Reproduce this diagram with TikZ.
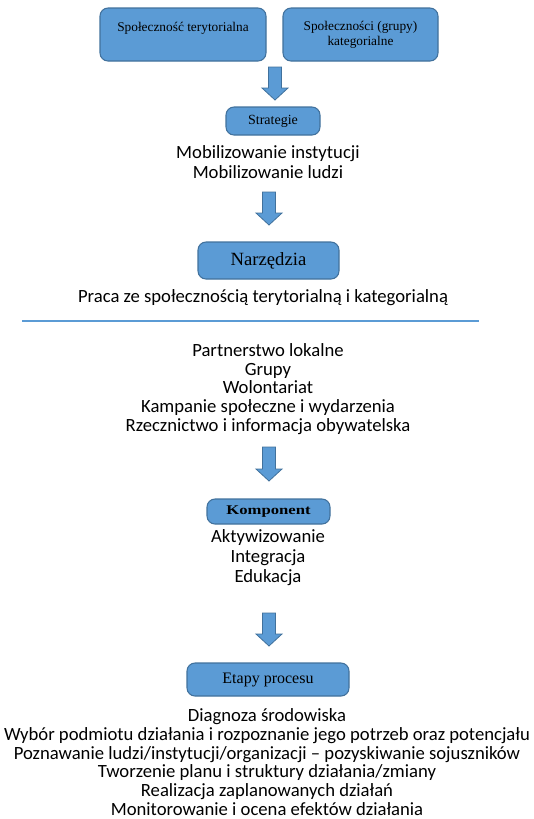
\documentclass[tikz,border=0pt]{standalone}
\usepackage{fontspec}
\setmainfont{Liberation Serif}
\newfontfamily\calibri{Carlito}
\usetikzlibrary{calc}

\definecolor{boxblue}{HTML}{5B9BD5}
\definecolor{boxedge}{HTML}{41719C}

\tikzset{
    stagebox/.style={draw=boxedge, fill=boxblue, rounded corners=6pt, line width=0.8pt,
        inner sep=0pt, align=center, font=\fontsize{10}{11.5}\selectfont},
    plaintext/.style={align=center, inner sep=0pt,
        font=\calibri\fontsize{14}{14.4}\selectfont},
    blockarr/.style={draw=boxedge, fill=boxblue, line width=0.6pt, line join=miter}
}

% block arrow from #1 (top of shaft) to #2 (tip)
\newcommand{\blockarrow}[2]{%
    \path[blockarr] let \p1=(#1), \p2=(#2) in
        (\x1-4.9pt,\y1) -- (\x1+4.9pt,\y1) -- (\x2+4.9pt,\y2+9pt)
        -- (\x2+9.75pt,\y2+9pt) -- (\x2,\y2) -- (\x2-9.75pt,\y2+9pt)
        -- (\x2-4.9pt,\y2+9pt) -- cycle;
}

\begin{document}
\begin{tikzpicture}[x=0.75pt, y=-0.75pt]

\useasboundingbox (0,0) rectangle (533,819);

% Top boxes
\node[stagebox, minimum width=166*0.75pt, minimum height=53*0.75pt] (terytorialna) at (183,34.5)
    {Społeczność terytorialna\\ \mbox{}};
\node[stagebox, minimum width=155*0.75pt, minimum height=53*0.75pt] (kategorialne) at (360.5,34.5)
    {Społeczności (grupy)\\ kategorialne};

% Strategie
\coordinate (a1s) at (275,67);
\coordinate (a1e) at (275,100);
\blockarrow{a1s}{a1e}
\node[stagebox, minimum width=94*0.75pt, minimum height=28*0.75pt,
    font=\fontsize{10.5}{12}\selectfont] (strategie) at (273,121) {Strategie};
\node[plaintext, font=\calibri\fontsize{14}{15}\selectfont] (mobil) at (268,162)
    {Mobilizowanie instytucji\\ Mobilizowanie ludzi};

% Narzedzia
\coordinate (a2s) at (269,192);
\coordinate (a2e) at (269,225);
\blockarrow{a2s}{a2e}
\node[stagebox, minimum width=141*0.75pt, minimum height=37*0.75pt,
    font=\fontsize{14}{16}\selectfont] (narzedzia) at (268.5,260.5) {Narzędzia};
\node[plaintext] (praca) at (263,298)
    {Praca ze społecznością terytorialną i kategorialną};

% separator line
\coordinate (lineL) at (22,321);
\coordinate (lineR) at (479,321);
\draw[boxblue, line width=1.1pt] (lineL) -- (lineR);

\node[plaintext, font=\calibri\fontsize{14}{14}\selectfont] (partnerstwo) at (268,389)
    {Partnerstwo lokalne\\ Grupy\\ Wolontariat\\ Kampanie społeczne i wydarzenia\\
     Rzecznictwo i informacja obywatelska};

% Komponent
\coordinate (a3s) at (269,447);
\coordinate (a3e) at (269,481);
\blockarrow{a3s}{a3e}
\node[stagebox, minimum width=123*0.75pt, minimum height=25*0.75pt] (komponent) at (268.5,511.5)
    {\scalebox{1.25}[1]{\bfseries Komponent}};
\node[plaintext, font=\calibri\fontsize{14}{15}\selectfont] (aktyw) at (268,558)
    {Aktywizowanie\\ Integracja\\ Edukacja};

% Etapy procesu
\coordinate (a4s) at (269,613);
\coordinate (a4e) at (269,646);
\blockarrow{a4s}{a4e}
\node[stagebox, minimum width=162*0.75pt, minimum height=33*0.75pt,
    font=\fontsize{12}{14}\selectfont] (etapy) at (268,679.5) {Etapy procesu};
\node[plaintext, font=\calibri\fontsize{14}{14}\selectfont] (diagnoza) at (267,762)
    {Diagnoza środowiska\\
     Wybór podmiotu działania i rozpoznanie jego potrzeb oraz potencjału\\
     Poznawanie ludzi/instytucji/organizacji – pozyskiwanie sojuszników\\
     Tworzenie planu i struktury działania/zmiany\\
     Realizacja zaplanowanych działań\\
     Monitorowanie i ocena efektów działania};

\end{tikzpicture}
\end{document}
